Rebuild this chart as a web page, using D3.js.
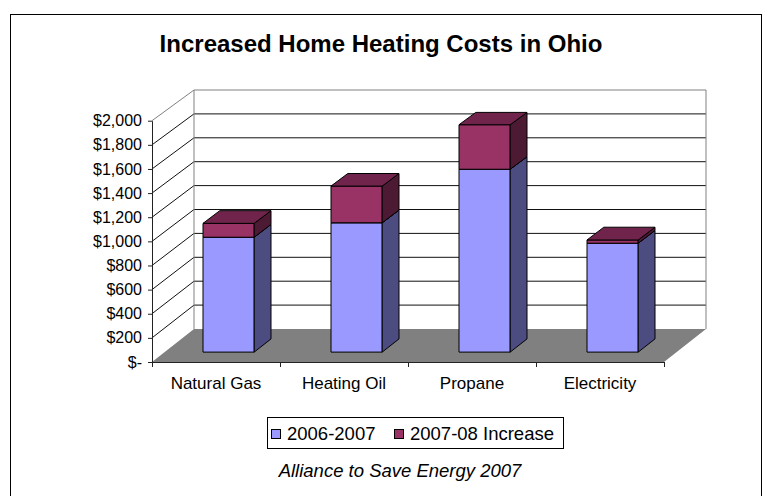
<!DOCTYPE html>
<html>
<head>
<meta charset="utf-8">
<script src="https://cdnjs.cloudflare.com/ajax/libs/d3/7.8.5/d3.min.js"></script>
<style>
  body { margin: 0; background: #fff; }
  svg { display: block; font-family: "Liberation Sans", Arial, sans-serif; }
</style>
</head>
<body>
<div id="chart"></div>
<script>
var categories = ["Natural Gas", "Heating Oil", "Propane", "Electricity"];
var cost2006 = [955, 1075, 1520, 905];
var increase2008 = [115, 305, 370, 27];
var seriesNames = ["2006-2007", "2007-08 Increase"];
var yTicks = [0, 200, 400, 600, 800, 1000, 1200, 1400, 1600, 1800, 2000];
var titleText = "Increased Home Heating Costs in Ohio";
var sourceText = "Alliance to Save Energy 2007";

var Heating_Chart = function(opt) {
  this.element = opt.element;
  this.width = 765;
  this.height = 496;
  this.depthX = 42; // how far the back wall is pushed to the right
  this.colorPalette = [
    { "front": "#9999ff", "side": "#4c4c80", "top": "#7a7acc" },
    { "front": "#993366", "side": "#4d1a33", "top": "#70244b" }
  ];
  this.draw();
}

Heating_Chart.prototype.draw = function() {
  this.svg = d3.select(this.element).append("svg")
    .attr("width", this.width)
    .attr("height", this.height);

  // outer chart frame, bottom runs off the page like the original
  this.svg.append("rect")
    .attr("x", 10.5).attr("y", 14.5)
    .attr("width", 751).attr("height", 500)
    .attr("fill", "#fff").attr("stroke", "#000");

  this.svg.append("text")
    .attr("x", 381).attr("y", 52)
    .attr("text-anchor", "middle")
    .style("font-size", "24px").style("font-weight", "bold")
    .text(titleText);

  this.plot = this.svg.append("g");

  this.generateScales();
  this.generateData();
  this.addWalls();
  this.addAxis();
  this.generateBars();
  this.addLegend();
};

Heating_Chart.prototype.generateScales = function() {
  this.xScale = d3.scaleBand()
    .domain(categories)
    .range([152, 664])
    .paddingInner(0.6)
    .paddingOuter(0.3);

  // boundaries between categories, for the tick marks
  this.xEdge = d3.scaleLinear().domain([0, categories.length]).range([152, 664]);

  this.yFront = d3.scaleLinear().domain([0, 2000]).range([362, 120.7]);
  this.yBack = d3.scaleLinear().domain([0, 2000]).range([329, 90]);

  // depth of the bars inside the box (gap depth 150%)
  this.zScale = d3.scaleBand().domain(["bar"]).range([0, 1])
    .paddingInner(0.6).paddingOuter(0.3);
};

// x on the front plane, value v, depth t (0 = front, 1 = back wall)
Heating_Chart.prototype.project = function(x, v, t) {
  return [x + t * this.depthX, (1 - t) * this.yFront(v) + t * this.yBack(v)];
};

Heating_Chart.prototype.generateData = function() {
  var rows = categories.map(function(c, i) {
    return { "category": c, "base": cost2006[i], "inc": increase2008[i] };
  });
  this.stacked = d3.stack().keys(["base", "inc"])(rows);
};

Heating_Chart.prototype.addWalls = function() {
  var that = this;
  var line = d3.line();
  var x0 = this.xEdge.range()[0], x1 = this.xEdge.range()[1];
  var top = d3.max(this.yFront.domain());

  // floor
  this.plot.append("path")
    .attr("d", line([this.project(x0, 0, 0), this.project(x1, 0, 0),
      this.project(x1, 0, 1), this.project(x0, 0, 1)]) + "Z")
    .attr("fill", "#808080");

  // gridlines on the back wall and the side wall
  var grid = yTicks.filter(function(d) { return d > 0 && d < top; });
  this.plot.selectAll(".grid-back").data(grid).enter().append("path")
    .attr("class", "grid-back")
    .attr("d", function(d) { return line([that.project(x0, d, 1), that.project(x1, d, 1)]); })
    .attr("stroke", "#111").attr("fill", "none");
  this.plot.selectAll(".grid-side").data(grid).enter().append("path")
    .attr("class", "grid-side")
    .attr("d", function(d) { return line([that.project(x0, d, 0), that.project(x0, d, 1)]); })
    .attr("stroke", "#111").attr("fill", "none");

  // wall frame
  this.plot.append("path")
    .attr("d", line([this.project(x0, top, 0), this.project(x0, top, 1),
      this.project(x1, top, 1), this.project(x1, 0, 1)]))
    .attr("stroke", "#808080").attr("fill", "none");
  this.plot.append("path")
    .attr("d", line([this.project(x0, 0, 1), this.project(x0, top, 1)]))
    .attr("stroke", "#808080").attr("fill", "none");
};

Heating_Chart.prototype.addAxis = function() {
  var yAxis = d3.axisLeft(this.yFront)
    .tickValues(yTicks)
    .tickSize(4)
    .tickSizeOuter(0)
    .tickPadding(6)
    .tickFormat(function(d) { return d === 0 ? "$-" : "$" + d3.format(",")(d); });

  var gy = this.plot.append("g")
    .attr("class", "y-axis")
    .attr("transform", "translate(152,0)")
    .call(yAxis);
  gy.selectAll("text").style("font-size", "16px").attr("fill", "#000");
  gy.selectAll("line, path").attr("stroke", "#222");

  var xTicks = d3.axisBottom(this.xEdge)
    .tickValues(d3.range(categories.length + 1))
    .tickSize(5)
    .tickSizeOuter(0)
    .tickFormat("");
  var gx = this.plot.append("g")
    .attr("class", "x-axis")
    .attr("transform", "translate(0,362)")
    .call(xTicks);
  gx.selectAll("line, path").attr("stroke", "#222");

  var that = this;
  this.plot.append("g").selectAll("text")
    .data(categories).enter().append("text")
    .attr("x", function(d) { return that.xScale(d) + that.xScale.bandwidth() / 2; })
    .attr("y", 389)
    .attr("text-anchor", "middle")
    .style("font-size", "17px")
    .text(function(d) { return d; });
};

Heating_Chart.prototype.generateBars = function() {
  var that = this;
  var line = d3.line();
  var bw = this.xScale.bandwidth();
  var t0 = this.zScale("bar"), t1 = t0 + this.zScale.bandwidth();

  categories.forEach(function(c, i) {
    var xl = that.xScale(c), xr = xl + bw;
    that.stacked.forEach(function(layer, s) {
      var v0 = layer[i][0], v1 = layer[i][1];
      var col = that.colorPalette[s];
      var P = function(x, v, t) { return that.project(x, v, t); };
      var faces = [
        { fill: col.front, pts: [P(xl, v0, t0), P(xr, v0, t0), P(xr, v1, t0), P(xl, v1, t0)] },
        { fill: col.side, pts: [P(xr, v0, t0), P(xr, v0, t1), P(xr, v1, t1), P(xr, v1, t0)] },
        { fill: col.top, pts: [P(xl, v1, t0), P(xr, v1, t0), P(xr, v1, t1), P(xl, v1, t1)] }
      ];
      that.plot.append("g").selectAll("path")
        .data(faces).enter().append("path")
        .attr("d", function(d) { return line(d.pts) + "Z"; })
        .attr("fill", function(d) { return d.fill; })
        .attr("stroke", "#000")
        .attr("stroke-linejoin", "round");
    });
  });
};

Heating_Chart.prototype.addLegend = function() {
  var that = this;
  this.svg.append("rect")
    .attr("x", 267.5).attr("y", 417.5)
    .attr("width", 296).attr("height", 31)
    .attr("fill", "#fff").attr("stroke", "#000");

  var items = this.svg.selectAll(".legend-item")
    .data(seriesNames).enter().append("g")
    .attr("class", "legend-item")
    .attr("transform", function(d, i) { return "translate(" + (271 + i * 123) + ",0)"; });
  items.append("rect")
    .attr("x", 0.5).attr("y", 429.5)
    .attr("width", 9).attr("height", 9)
    .attr("fill", function(d, i) { return that.colorPalette[i].front; })
    .attr("stroke", "#000");
  items.append("text")
    .attr("x", 16).attr("y", 439.5)
    .style("font-size", "18.5px")
    .text(function(d) { return d; });

  this.svg.append("text")
    .attr("x", 400).attr("y", 477)
    .attr("text-anchor", "middle")
    .style("font-size", "18.5px").style("font-style", "italic")
    .text(sourceText);
};

new Heating_Chart({ element: "#chart" });
</script>
</body>
</html>
